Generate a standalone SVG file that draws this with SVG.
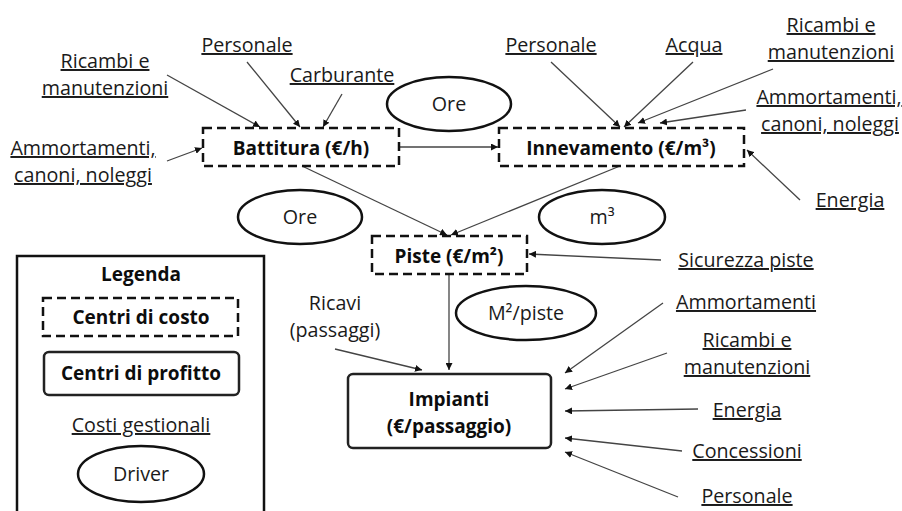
<svg xmlns="http://www.w3.org/2000/svg" width="902" height="511" viewBox="0 0 902 511">
<defs>
<marker id="ah" viewBox="0 0 10 10" refX="10" refY="5" markerWidth="7" markerHeight="7" markerUnits="userSpaceOnUse" orient="auto">
<path d="M0,0 L10,5 L0,10 z" fill="#111"/>
</marker>
<style>
.t{font-family:"Open Sans","Liberation Sans",sans-serif;font-size:19.7px;fill:#1a1a1a;text-anchor:middle}
.u{text-decoration:underline}
.b{font-weight:bold;font-size:19px;fill:#0d0d0d}
.dash{fill:#fff;stroke:#111;stroke-width:2.5;stroke-dasharray:9,5}
.solid{fill:#fff;stroke:#222;stroke-width:2.5}
.ell{fill:#fff;stroke:#111;stroke-width:2.5}
.c{stroke:#444;stroke-width:1.3;fill:none;marker-end:url(#ah)}
</style>
</defs>
<rect width="902" height="511" fill="#fff"/>

<g id="connectors">
<line class="c" x1="167" y1="75" x2="260" y2="127"/>
<line class="c" x1="247" y1="62" x2="300" y2="127"/>
<line class="c" x1="342" y1="94" x2="323" y2="127"/>
<line class="c" x1="167" y1="161" x2="202" y2="148"/>
<line class="c" x1="400" y1="147" x2="498" y2="147"/>
<line class="c" x1="302" y1="166" x2="447" y2="235"/>
<line class="c" x1="620" y1="166" x2="451" y2="235"/>
<line class="c" x1="551" y1="62" x2="620" y2="127"/>
<line class="c" x1="693" y1="62" x2="624" y2="127"/>
<line class="c" x1="773" y1="69" x2="638" y2="123"/>
<line class="c" x1="746" y1="110" x2="660" y2="123"/>
<line class="c" x1="800" y1="200" x2="747" y2="150"/>
<line class="c" x1="661" y1="260" x2="529" y2="254"/>
<line class="c" x1="449" y1="274" x2="449" y2="370"/>
<line class="c" x1="335" y1="349" x2="422" y2="370"/>
<line class="c" x1="663" y1="303" x2="565" y2="373"/>
<line class="c" x1="667" y1="353" x2="565" y2="389"/>
<line class="c" x1="698" y1="409" x2="565" y2="411"/>
<line class="c" x1="682" y1="451" x2="565" y2="438"/>
<line class="c" x1="678" y1="497" x2="565" y2="452"/>
</g>

<g id="battitura">
<rect class="dash" x="203" y="128" width="196" height="38"/>
<text class="t b" x="301" y="155">Battitura (€/h)</text>
</g>
<g id="innevamento">
<rect class="dash" x="499" y="128" width="245" height="38"/>
<text class="t b" x="621" y="155">Innevamento (€/m³)</text>
</g>
<g id="piste">
<rect class="dash" x="372" y="236" width="155" height="38"/>
<text class="t b" x="449" y="263">Piste (€/m²)</text>
</g>
<g id="impianti">
<rect class="solid" x="348" y="374" width="203" height="74" rx="5"/>
<text class="t b" x="449" y="406">Impianti</text>
<text class="t b" x="449" y="433">(€/passaggio)</text>
</g>

<g id="driver-ore-top">
<ellipse class="ell" cx="449" cy="104" rx="62" ry="27"/>
<text class="t" x="449" y="111">Ore</text>
</g>
<g id="driver-ore">
<ellipse class="ell" cx="300" cy="217" rx="62" ry="27"/>
<text class="t" x="300" y="224">Ore</text>
</g>
<g id="driver-m3">
<ellipse class="ell" cx="602" cy="217" rx="63" ry="27"/>
<text class="t" x="602" y="224">m³</text>
</g>
<g id="driver-m2">
<ellipse class="ell" cx="526" cy="313" rx="70" ry="27"/>
<text class="t" x="526" y="320">M²/piste</text>
</g>

<g id="labels-battitura">
<text class="t u" x="105" y="68">Ricambi e</text>
<text class="t u" x="105" y="95">manutenzioni</text>
<text class="t u" x="247" y="52">Personale</text>
<text class="t u" x="342" y="82">Carburante</text>
<text class="t u" x="83" y="155">Ammortamenti,</text>
<text class="t u" x="83" y="182">canoni, noleggi</text>
</g>
<g id="labels-innevamento">
<text class="t u" x="551" y="52">Personale</text>
<text class="t u" x="694" y="52">Acqua</text>
<text class="t u" x="831" y="32">Ricambi e</text>
<text class="t u" x="831" y="59">manutenzioni</text>
<text class="t u" x="829" y="104">Ammortamenti,</text>
<text class="t u" x="830" y="131">canoni, noleggi</text>
<text class="t u" x="850" y="207">Energia</text>
</g>
<g id="labels-piste">
<text class="t u" x="746" y="267">Sicurezza piste</text>
</g>
<g id="labels-impianti">
<text class="t" x="335" y="310">Ricavi</text>
<text class="t" x="335" y="337">(passaggi)</text>
<text class="t u" x="746" y="309">Ammortamenti</text>
<text class="t u" x="747" y="347">Ricambi e</text>
<text class="t u" x="747" y="374">manutenzioni</text>
<text class="t u" x="747" y="417">Energia</text>
<text class="t u" x="747" y="458">Concessioni</text>
<text class="t u" x="747" y="503">Personale</text>
</g>

<g id="legend">
<rect x="17" y="256" width="247" height="280" fill="none" stroke="#111" stroke-width="2.5"/>
<text class="t b" x="141" y="281">Legenda</text>
<rect class="dash" x="43" y="298" width="195" height="38"/>
<text class="t b" x="141" y="324">Centri di costo</text>
<rect class="solid" x="44" y="352" width="195" height="43" rx="5"/>
<text class="t b" x="141" y="380">Centri di profitto</text>
<text class="t u" x="141" y="432">Costi gestionali</text>
<ellipse class="ell" cx="141" cy="474" rx="63" ry="28"/>
<text class="t" x="141" y="481">Driver</text>
</g>
</svg>
